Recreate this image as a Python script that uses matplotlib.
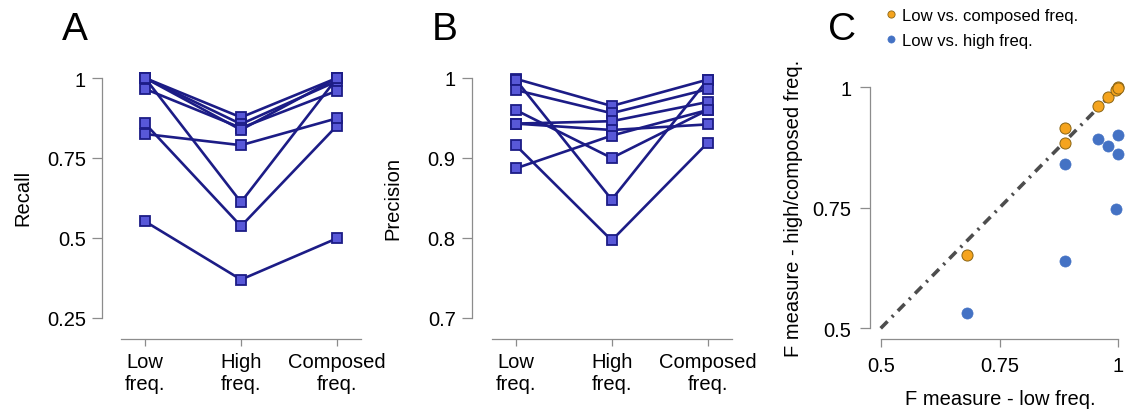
import matplotlib
matplotlib.use("Agg")
import matplotlib.pyplot as plt
from matplotlib.lines import Line2D

plt.rcParams['font.family'] = ['Liberation Sans', 'DejaVu Sans']
plt.rcParams['lines.scale_dashes'] = False

# ---------------- data ----------------
conditions = ["Low\nfreq.", "High\nfreq.", "Composed\nfreq."]

recall_low = [1.000, 1.000, 0.966, 1.000, 1.000, 0.858, 0.825, 0.552]
recall_high = [0.877, 0.856, 0.844, 0.838, 0.612, 0.537, 0.790, 0.370]
recall_comp = [1.000, 0.990, 0.960, 1.000, 1.000, 0.851, 0.874, 0.499]

prec_low = [0.999, 0.998, 0.985, 0.960, 0.943, 0.943, 0.916, 0.887]
prec_high = [0.965, 0.848, 0.956, 0.900, 0.946, 0.935, 0.797, 0.928]
prec_comp = [0.998, 0.998, 0.986, 0.960, 0.970, 0.942, 0.919, 0.960]

f_low = [0.681, 0.888, 0.888, 0.957, 0.979, 0.995, 1.000, 1.000]
f_comp = [0.652, 0.885, 0.916, 0.961, 0.980, 0.994, 1.000, 0.998]
f_low_b = [0.681, 0.888, 0.888, 0.957, 0.979, 1.000, 1.000, 0.996]
f_high = [0.531, 0.640, 0.841, 0.893, 0.879, 0.902, 0.862, 0.748]

recall_ticks = [0.25, 0.5, 0.75, 1.0]
recall_ticklabels = ["0.25", "0.5", "0.75", "1"]
prec_ticks = [0.7, 0.8, 0.9, 1.0]
prec_ticklabels = ["0.7", "0.8", "0.9", "1"]
f_ticks = [0.5, 0.75, 1.0]
f_ticklabels = ["0.5", "0.75", "1"]

# ---------------- style ----------------
W, H = 1126, 414
fig = plt.figure(figsize=(W / 100, H / 100), dpi=100)

line_col = '#1c1c86'
face_col = '#5858d8'
spine_col = '#8c8c8c'
px = 0.72  # points per pixel

def style_axes(ax, left_out_px, bottom_out_px):
    for s in ['top', 'right']:
        ax.spines[s].set_visible(False)
    for s in ['left', 'bottom']:
        ax.spines[s].set_color(spine_col)
        ax.spines[s].set_linewidth(0.9)
    ax.spines['left'].set_position(('outward', left_out_px * px))
    ax.spines['bottom'].set_position(('outward', bottom_out_px * px))
    ax.tick_params(axis='both', colors=spine_col, labelcolor='black',
                   labelsize=14.5, width=0.9)
    ax.tick_params(axis='y', length=10 * px, pad=6 * px)
    ax.tick_params(axis='x', length=6.5 * px, pad=7 * px)


def paired_panel(rect, low, high, comp, ticks, ticklabels, ylabel, ylim, yoff):
    ax = fig.add_axes(rect)
    x = list(range(len(conditions)))
    for a, b, c in zip(low, high, comp):
        ax.plot(x, [a, b, c], color=line_col, lw=1.9,
                marker='s', ms=6.6, mfc=face_col, mec=line_col, mew=1.3,
                clip_on=False, zorder=3)
    ax.set_xlim(-0.25, 2.25)
    ax.set_ylim(*ylim)
    ax.set_xticks(x)
    ax.set_xticklabels(conditions, linespacing=0.82)
    ax.set_yticks(ticks)
    ax.set_yticklabels(ticklabels)
    style_axes(ax, yoff, 21)
    ax.spines['left'].set_bounds(ylim[0], ylim[1])
    ax.set_ylabel(ylabel, fontsize=14.5, va='center')
    ax.yaxis.set_label_coords(-0.41, 0.504)
    return ax

axA = paired_panel([121 / W, 1 - 319 / H, 240 / W, 240 / H],
                   recall_low, recall_high, recall_comp,
                   recall_ticks, recall_ticklabels, "Recall", (0.25, 1.0), 19)
axB = paired_panel([491.7 / W, 1 - 319 / H, 240 / W, 240 / H],
                   prec_low, prec_high, prec_comp,
                   prec_ticks, prec_ticklabels, "Precision", (0.7, 1.0), 20)

# ---------------- panel C ----------------
axC = fig.add_axes([880.7 / W, 1 - 329.3 / H, 237.6 / W, 241 / H])
orange = '#F5A41E'
blue = '#4472C4'
axC.plot([0.5, 1.0], [0.5, 1.0], color='#4d4d4d', lw=2.6,
         dashes=[7, 4.5, 1.6, 4.5], zorder=1, clip_on=False)
axC.scatter(f_low, f_comp, s=64, c=orange, edgecolors='#8a6515',
            linewidths=0.7, zorder=3, clip_on=False)
axC.scatter(f_low_b, f_high, s=64, c=blue, edgecolors=blue,
            linewidths=0.5, zorder=3, clip_on=False)
axC.set_xlim(0.5, 1.0)
axC.set_ylim(0.5, 1.0)
axC.set_xticks(f_ticks)
axC.set_xticklabels(f_ticklabels)
axC.set_yticks(f_ticks)
axC.set_yticklabels(f_ticklabels)
style_axes(axC, 10.7, 10.7)
axC.tick_params(axis='x', length=8 * px, pad=9 * px)
axC.tick_params(axis='y', length=10.5 * px, pad=8 * px)
axC.set_xlabel("F measure - low freq.", fontsize=14.5, va='center')
axC.xaxis.set_label_coords(0.505, -0.293)
axC.set_ylabel("F measure - high/composed freq.", fontsize=14.5, va='center')
axC.yaxis.set_label_coords(-0.369, 0.503)

handles = [
    Line2D([], [], ls='none', marker='o', ms=5.2, mfc=orange, mec='#8a6515', mew=0.6,
           label='Low vs. composed freq.'),
    Line2D([], [], ls='none', marker='o', ms=5.2, mfc=blue, mec=blue, mew=0.4,
           label='Low vs. high freq.'),
]
fig.legend(handles=handles, loc='upper left', bbox_to_anchor=(885.5 / W, 1 - 9.0 / H),
           frameon=False, fontsize=12, handlelength=0.6, handletextpad=0.4,
           labelspacing=0.58, borderpad=0, borderaxespad=0)

# ---------------- panel letters ----------------
for letter, xpx in [("A", 62), ("B", 432), ("C", 828)]:
    fig.text(xpx / W, 1 - 40 / H, letter, fontsize=28, ha='left', va='baseline')

fig.savefig("out.png", dpi=100)
